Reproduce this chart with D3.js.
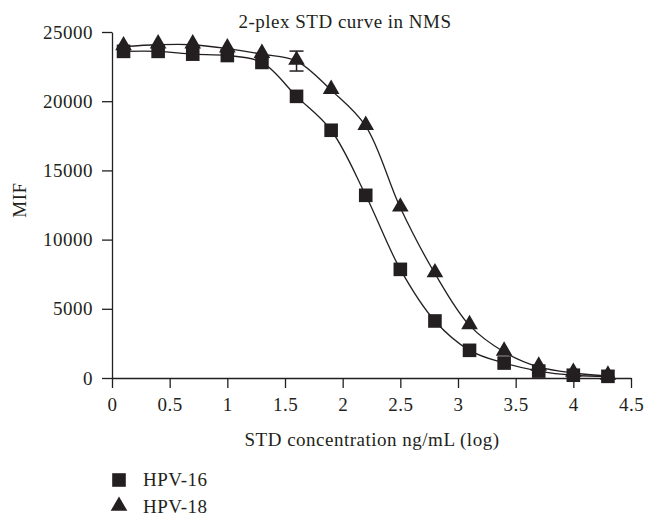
<!DOCTYPE html>
<html>
<head>
<meta charset="utf-8">
<script src="https://cdn.jsdelivr.net/npm/d3@7"></script>
<style>
  body { margin: 0; background: #fff; }
  text { font-family: "Liberation Serif", "DejaVu Serif", serif; fill: #231f20; letter-spacing: 0.5px; }
</style>
</head>
<body>
<div id="chart"></div>
<script>
const width = 645;
const height = 516;
const margin = {top: 32, right: 14, bottom: 138, left: 112};
const ink = "#231f20";

const concLog = [0.1, 0.4, 0.7, 1.0, 1.3, 1.6, 1.9, 2.2, 2.5, 2.8, 3.1, 3.4, 3.7, 4.0, 4.3];
const hpv16 = [23600, 23600, 23400, 23300, 22800, 20350, 17900, 13200, 7850, 4120, 2000, 1080, 500, 200, 120];
const hpv18 = [23950, 24080, 24080, 23800, 23400, 22900, 20800, 18200, 12300, 7550, 3800, 1880, 800, 360, 150];
const hpv18Err = [0, 0, 0, 0, 0, 720, 0, 0, 0, 0, 0, 0, 0, 0, 0];
const xTicks = [0, 0.5, 1, 1.5, 2, 2.5, 3, 3.5, 4, 4.5];
const yTicks = [0, 5000, 10000, 15000, 20000, 25000];

const svg = d3.select("#chart")
  .append("svg")
  .attr("width", width)
  .attr("height", height);

const x = d3.scaleLinear()
  .domain([0, 4.5])
  .range([margin.left, width - margin.right]);

const y = d3.scaleLinear()
  .domain([0, 25000])
  .range([height - margin.bottom, margin.top]);

// axes
const xAxis = svg.append("g")
  .attr("transform", `translate(0,${y(0)})`)
  .call(d3.axisBottom(x).tickValues(xTicks).tickFormat(d => d).tickSize(10).tickPadding(10).tickSizeOuter(0));

const yAxis = svg.append("g")
  .attr("transform", `translate(${x(0)},0)`)
  .call(d3.axisLeft(y).tickValues(yTicks).tickFormat(d => d).tickSize(10).tickPadding(9).tickSizeOuter(0));

[xAxis, yAxis].forEach(g => {
  g.select(".domain").attr("stroke", ink).attr("stroke-width", 1.3);
  g.selectAll(".tick line").attr("stroke", ink).attr("stroke-width", 1.3);
  g.selectAll(".tick text").attr("font-size", 19).attr("font-family", "Liberation Serif").attr("fill", ink);
});

// fitted curves
const line = d3.line()
  .x(d => x(d[0]))
  .y(d => y(d[1]))
  .curve(d3.curveCatmullRom.alpha(0.5));

[hpv16, hpv18].forEach(vals => {
  svg.append("path")
    .datum(concLog.map((c, i) => [c, vals[i]]))
    .attr("fill", "none")
    .attr("stroke", ink)
    .attr("stroke-width", 1.3)
    .attr("d", line);
});

// error bars
concLog.forEach((c, i) => {
  if (!hpv18Err[i]) return;
  const g = svg.append("g").attr("stroke", ink).attr("stroke-width", 1.5);
  g.append("line").attr("x1", x(c)).attr("x2", x(c)).attr("y1", y(hpv18[i] - hpv18Err[i])).attr("y2", y(hpv18[i] + hpv18Err[i]));
  [-1, 1].forEach(s => {
    g.append("line").attr("x1", x(c) - 7).attr("x2", x(c) + 7)
      .attr("y1", y(hpv18[i] + s * hpv18Err[i])).attr("y2", y(hpv18[i] + s * hpv18Err[i]));
  });
});

const square = d3.symbol().type(d3.symbolSquare).size(185);
const triangle = d3.symbol().type(d3.symbolTriangle).size(120);

svg.selectAll(".sq")
  .data(concLog.map((c, i) => [c, hpv16[i]]))
  .join("path")
  .attr("transform", d => `translate(${x(d[0])},${y(d[1])})`)
  .attr("d", square)
  .attr("fill", ink);

svg.selectAll(".tri")
  .data(concLog.map((c, i) => [c, hpv18[i]]))
  .join("path")
  .attr("transform", d => `translate(${x(d[0])},${y(d[1]) - 1})`)
  .attr("d", triangle)
  .attr("fill", ink);

// titles
svg.append("text")
  .attr("x", 345).attr("y", 28)
  .attr("text-anchor", "middle")
  .attr("font-size", 19)
  .text("2-plex STD curve in NMS");

svg.append("text")
  .attr("x", 372).attr("y", 446)
  .attr("text-anchor", "middle")
  .attr("font-size", 19)
  .text("STD concentration ng/mL (log)");

svg.append("text")
  .attr("transform", "translate(26,200) rotate(-90)")
  .attr("text-anchor", "middle")
  .attr("font-size", 19)
  .text("MIF");

// legend
const legend = [["HPV-16", square], ["HPV-18", triangle]];
legend.forEach(([name, sym], i) => {
  const ly = 480 + i * 27;
  svg.append("path")
    .attr("transform", `translate(119,${ly - (i ? 1 : 0)})`)
    .attr("d", sym)
    .attr("fill", ink);
  svg.append("text")
    .attr("x", 143).attr("y", ly + 6)
    .attr("font-size", 19)
    .text(name);
});
</script>
</body>
</html>
